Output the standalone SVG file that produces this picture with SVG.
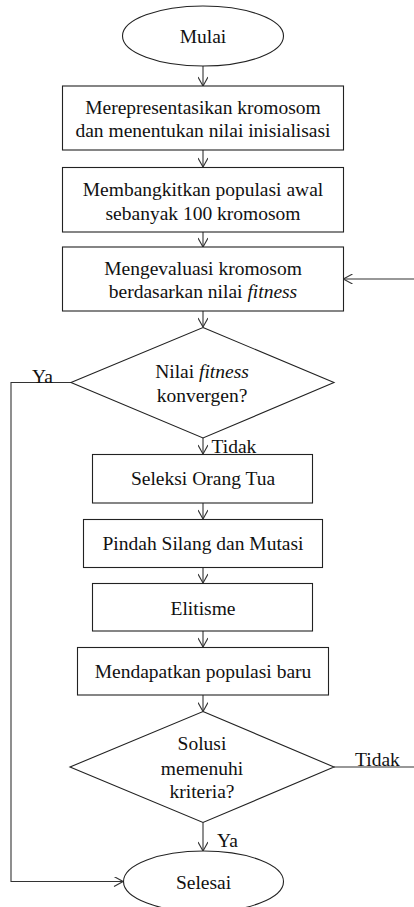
<svg xmlns="http://www.w3.org/2000/svg" width="414" height="907" viewBox="0 0 414 907">
<style>
.shape{fill:#fff;stroke:#222;stroke-width:1.1}
.lbl{font-family:'Liberation Serif','Times New Roman',serif;font-size:19.5px;fill:#111;text-anchor:middle}
.edge-lbl{font-family:'Liberation Serif','Times New Roman',serif;font-size:19.5px;fill:#111}
.conn{fill:none;stroke:#333;stroke-width:1.1}
</style>
<defs>
<marker id="a" viewBox="0 0 10 10" refX="10" refY="5" markerWidth="10" markerHeight="10" markerUnits="userSpaceOnUse" orient="auto">
<path d="M1,0 L10,5 L1,10" fill="none" stroke="#333" stroke-width="1.1"/>
</marker>
</defs>
<rect width="414" height="907" fill="#fff"/>
<g id="connectors">
<line class="conn" x1="203" y1="66" x2="203" y2="86" marker-end="url(#a)"/>
<line class="conn" x1="203" y1="150" x2="203" y2="167" marker-end="url(#a)"/>
<line class="conn" x1="203" y1="232" x2="203" y2="247" marker-end="url(#a)"/>
<line class="conn" x1="203" y1="311" x2="203" y2="327" marker-end="url(#a)"/>
<line class="conn" x1="414" y1="279" x2="343.5" y2="279" marker-end="url(#a)"/>
<line class="conn" x1="203" y1="438" x2="203" y2="454" marker-end="url(#a)"/>
<line class="conn" x1="203" y1="503" x2="203" y2="519" marker-end="url(#a)"/>
<line class="conn" x1="203" y1="567" x2="203" y2="583" marker-end="url(#a)"/>
<line class="conn" x1="203" y1="631" x2="203" y2="647" marker-end="url(#a)"/>
<line class="conn" x1="203" y1="695" x2="203" y2="711.5" marker-end="url(#a)"/>
<line class="conn" x1="203" y1="822.5" x2="203" y2="851" marker-end="url(#a)"/>
<polyline class="conn" points="71,382.5 11,382.5 11,881.5 123,881.5" marker-end="url(#a)"/>
<line class="conn" x1="334" y1="767" x2="414" y2="767"/>
<text class="edge-lbl" x="32" y="383">Ya</text>
<text class="edge-lbl" x="211.5" y="453">Tidak</text>
<text class="edge-lbl" x="355" y="766">Tidak</text>
<text class="edge-lbl" x="217" y="847">Ya</text>
</g>
<g id="mulai">
<ellipse class="shape" cx="203" cy="36" rx="80.5" ry="30"/>
<text class="lbl" x="203" y="43" style="font-family:'Liberation Serif',serif">Mulai</text>
</g>
<g id="representasi">
<rect class="shape" x="62.5" y="86" width="281" height="64"/>
<text class="lbl" x="203" y="114" style="font-family:'Liberation Serif',serif">Merepresentasikan kromosom</text>
<text class="lbl" x="203" y="137" style="font-family:'Liberation Serif',serif">dan menentukan nilai inisialisasi</text>
</g>
<g id="bangkit">
<rect class="shape" x="62.5" y="167.5" width="281" height="64.5"/>
<text class="lbl" x="203" y="195.5" style="font-family:'Liberation Serif',serif">Membangkitkan populasi awal</text>
<text class="lbl" x="203" y="220" style="font-family:'Liberation Serif',serif">sebanyak 100 kromosom</text>
</g>
<g id="evaluasi">
<rect class="shape" x="62.5" y="247" width="281" height="64"/>
<text class="lbl" x="203" y="275" style="font-family:'Liberation Serif',serif">Mengevaluasi kromosom</text>
<text class="lbl" x="203" y="298" style="font-family:'Liberation Serif',serif">berdasarkan nilai <tspan font-style="italic">fitness</tspan></text>
</g>
<g id="konvergen">
<polygon class="shape" points="203,327.5 334,382.5 203,438 71,382.5"/>
<text class="lbl" x="202" y="378" style="font-family:'Liberation Serif',serif">Nilai <tspan font-style="italic">fitness</tspan></text>
<text class="lbl" x="202" y="401.5" style="font-family:'Liberation Serif',serif">konvergen?</text>
</g>
<g id="seleksi">
<rect class="shape" x="92.5" y="454.5" width="220" height="48.5"/>
<text class="lbl" x="203" y="485" style="font-family:'Liberation Serif',serif">Seleksi Orang Tua</text>
</g>
<g id="silang">
<rect class="shape" x="83.5" y="519.5" width="239" height="48"/>
<text class="lbl" x="203" y="550" style="font-family:'Liberation Serif',serif">Pindah Silang dan Mutasi</text>
</g>
<g id="elitisme">
<rect class="shape" x="92.5" y="583.5" width="220" height="47.5"/>
<text class="lbl" x="203" y="615" style="font-family:'Liberation Serif',serif">Elitisme</text>
</g>
<g id="populasi">
<rect class="shape" x="77.5" y="647.5" width="251" height="47.5"/>
<text class="lbl" x="203" y="678" style="font-family:'Liberation Serif',serif">Mendapatkan populasi baru</text>
</g>
<g id="kriteria">
<polygon class="shape" points="203,711.5 334,767 203,822.5 70,767"/>
<text class="lbl" x="202" y="750" style="font-family:'Liberation Serif',serif">Solusi</text>
<text class="lbl" x="202" y="775" style="font-family:'Liberation Serif',serif">memenuhi</text>
<text class="lbl" x="202" y="798" style="font-family:'Liberation Serif',serif">kriteria?</text>
</g>
<g id="selesai">
<ellipse class="shape" cx="203.5" cy="881.5" rx="80" ry="30.5"/>
<text class="lbl" x="203.5" y="889" style="font-family:'Liberation Serif',serif">Selesai</text>
</g>
</svg>
